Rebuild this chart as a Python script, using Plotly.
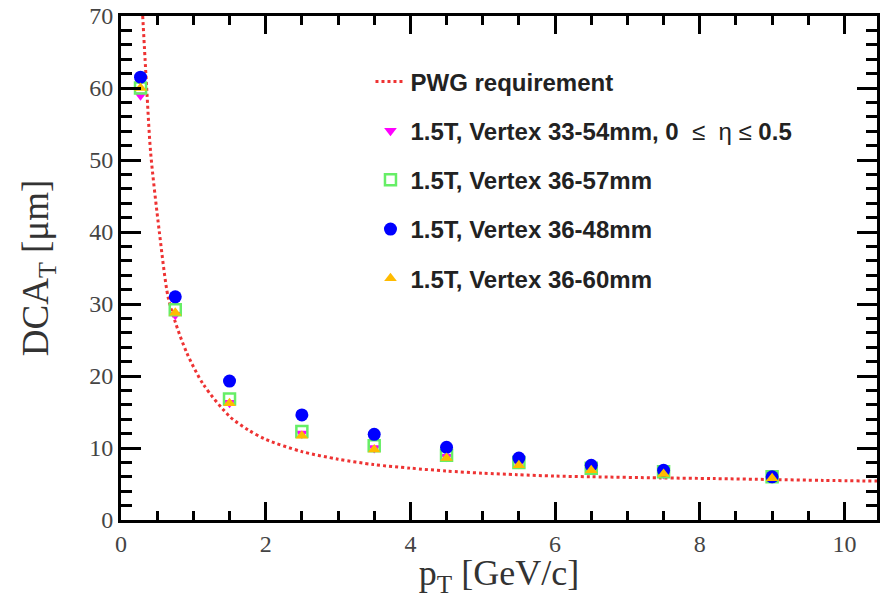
import plotly.graph_objects as go

# PWG requirement curve
pwg_pt = [0.30, 0.355, 0.41, 0.53, 0.65, 0.75, 0.91, 1.14, 1.51, 1.76, 2.0, 2.5, 3.0, 3.49, 4.0, 4.5, 5.0, 5.47, 6.0, 6.5, 7.45, 8.2, 9.0, 9.7, 10.45]
pwg_dca = [70.0, 60.0, 51.0, 40.0, 31.0, 27.5, 23.2, 18.8, 14.3, 12.5, 11.2, 9.5, 8.45, 7.7, 7.2, 6.8, 6.5, 6.3, 6.1, 6.0, 5.85, 5.75, 5.62, 5.5, 5.4]

pt = [0.27, 0.75, 1.5, 2.5, 3.5, 4.5, 5.5, 6.5, 7.5, 9.0]
v33_54 = [59.0, 28.5, 16.3, 12.0, 10.0, 8.8, 7.8, 7.0, 6.4, 5.8]
v36_57 = [60.0, 29.2, 16.8, 12.3, 10.3, 9.0, 8.0, 7.2, 6.7, 6.0]
v36_48 = [61.5, 31.0, 19.3, 14.6, 11.9, 10.1, 8.6, 7.6, 6.9, 6.0]
v36_60 = [60.0, 28.8, 16.2, 11.7, 9.8, 8.6, 7.6, 6.9, 6.4, 5.8]

names = ["PWG requirement",
         "1.5T, Vertex 33-54mm, 0\u00a0 <span style='font-weight:normal'>\u2264\u00a0 \u03b7 \u2264</span> 0.5",
         "1.5T, Vertex 36-57mm",
         "1.5T, Vertex 36-48mm",
         "1.5T, Vertex 36-60mm"]

fig = go.Figure()
fig.add_trace(go.Scatter(x=pwg_pt, y=pwg_dca, mode="lines", name=names[0],
                         line=dict(color="#ee3333", width=3, dash="dot", shape="spline", smoothing=0.8),
                         legendgroup="g0"))
fig.add_trace(go.Scatter(x=pt, y=v33_54, mode="markers", name=names[1],
                         marker=dict(symbol="triangle-down", size=11, color="#ff00ff"),
                         legendgroup="g1"))
fig.add_trace(go.Scatter(x=pt, y=v36_57, mode="markers", name=names[2],
                         marker=dict(symbol="square-open", size=11, color="#66ee66", line=dict(width=2.5, color="#66ee66")),
                         legendgroup="g2"))
fig.add_trace(go.Scatter(x=pt, y=v36_48, mode="markers", name=names[3],
                         marker=dict(symbol="circle", size=13, color="#0000ff"),
                         legendgroup="g3"))
fig.add_trace(go.Scatter(x=pt, y=v36_60, mode="markers", name=names[4],
                         marker=dict(symbol="triangle-up", size=11, color="#ffbb00"),
                         legendgroup="g4"))

axis_common = dict(showline=True, linecolor="black", linewidth=3, mirror="allticks",
                   ticks="inside", tickcolor="black", tickwidth=2.5,
                   showgrid=False, zeroline=False, automargin=False,
                   ticklabeloverflow="allow",
                   tickfont=dict(family="Liberation Serif", size=24, color="#444444"))

fig.update_xaxes(range=[0, 10.45], dtick=2, ticklen=18,
                 minor=dict(dtick=0.5, ticks="inside", ticklen=9, tickcolor="black", tickwidth=2.5),
                 title=dict(text="p<sub>T</sub> [GeV/c]", font=dict(family="Liberation Serif", size=36, color="#333333")),
                 **axis_common)
fig.update_yaxes(range=[0, 70], dtick=10, ticklen=20,
                 minor=dict(dtick=2, ticks="inside", ticklen=11, tickcolor="black", tickwidth=2.5),
                 title=dict(text="DCA<sub>T</sub> [\u03bcm]", font=dict(family="Liberation Serif", size=37, color="#333333"), standoff=30),
                 **axis_common)

fig.update_layout(
    width=885, height=598,
    margin=dict(l=121, r=8, t=16, b=78),
    paper_bgcolor="white", plot_bgcolor="white",
    legend=dict(x=0.33, y=0.914, xanchor="left", yanchor="top",
                bgcolor="rgba(0,0,0,0)", tracegroupgap=15,
                font=dict(family="Liberation Sans", size=24, color="#222222", weight="bold"),
                itemwidth=30),
)

# remove the page body's default 8px margin so the figure fills the window exactly
fig.write_html("out.html", config={"displayModeBar": False},
               post_script="document.body.style.margin='0px';")
